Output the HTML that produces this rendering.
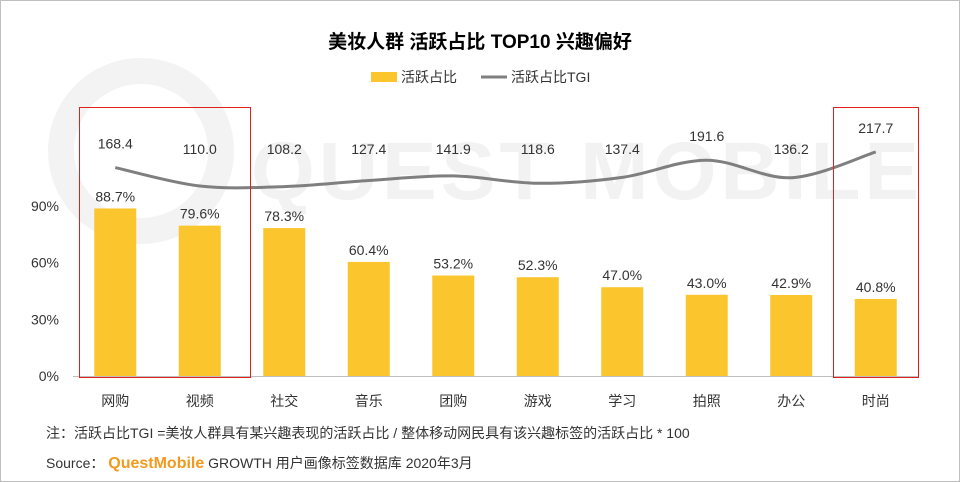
<!DOCTYPE html>
<html><head><meta charset="utf-8"><style>
body{margin:0;background:#fff;}
#wrap{position:relative;width:958px;height:480px;border:1px solid #bfbfbf;overflow:hidden;font-family:"Liberation Sans","Noto Sans CJK SC",sans-serif;}
svg{position:absolute;left:0;top:0}
</style></head><body>
<div id="wrap">
<svg id="chart" width="958" height="480"></svg>
</div>
<script>
const categories=["网购","视频","社交","音乐","团购","游戏","学习","拍照","办公","时尚"];
const shareValues=[88.7,79.6,78.3,60.4,53.2,52.3,47.0,43.0,42.9,40.8];
const tgiValues=[168.4,110.0,108.2,127.4,141.9,118.6,137.4,191.6,136.2,217.7];
const yTicks=[0,30,60,90];
const yTickLabels=["0%","30%","60%","90%"];
const NS="http://www.w3.org/2000/svg";
const svg=document.getElementById('chart');
function el(tag,attrs,parent){const e=document.createElementNS(NS,tag);for(const k in attrs)e.setAttribute(k,attrs[k]);(parent||svg).appendChild(e);return e;}
const x0=72,step=84.5,baseY=375;
const xPos=i=>x0+step*(i+0.5);
const yShare=v=>baseY-v*(170/90);
const yTgi=v=>185-(v-110)*0.316;
// watermark
let wm=el('text',{x:250,y:198,'font-size':82,'font-weight':'bold',fill:'#f2f2f2','letter-spacing':'4'});
wm.textContent="QUEST MOBILE";


let wc=el('circle',{cx:140,cy:150,r:80,fill:'none',stroke:'#f3f3f3','stroke-width':26});


// title
let t=el('text',{x:479,y:47,'text-anchor':'middle','font-size':19,'font-weight':'bold',fill:'#000'});
t.textContent="美妆人群 活跃占比 TOP10 兴趣偏好";


// legend
let lg=el('g',{});


let lr=el('rect',{x:370,y:71,width:26,height:10,fill:'#fbc52d'},lg);


let lt=el('text',{x:400,y:81,'font-size':14,fill:'#333'},lg);lt.textContent="活跃占比";


let ll=el('line',{x1:480,y1:76,x2:506,y2:76,stroke:'#7f7f7f','stroke-width':3},lg);


let lt2=el('text',{x:510,y:81,'font-size':14,fill:'#333'},lg);lt2.textContent="活跃占比TGI";


// y ticks
yTicks.forEach((v,i)=>{let tx=el('text',{x:58,y:yShare(v)+5,'text-anchor':'end','font-size':14,fill:'#333'});tx.textContent=yTickLabels[i];

});
// axis
let ax=el('line',{x1:x0,y1:baseY+0.5,x2:x0+step*10,y2:baseY+0.5,stroke:'#bfbfbf','stroke-width':1});


// bars
categories.forEach((c,i)=>{
 const v=shareValues[i],y=yShare(v);
 let b=el('rect',{x:xPos(i)-21,y:y,width:42,height:baseY-y,fill:'#fbc52d'});
 
 
 let vl=el('text',{x:xPos(i),y:y-7,'text-anchor':'middle','font-size':14,fill:'#333'});vl.textContent=v.toFixed(1)+"%";
 
 
 let cl=el('text',{x:xPos(i),y:baseY+30,'text-anchor':'middle','font-size':14,fill:'#333'});cl.textContent=c;
 
 
});
// line (smooth)
const pts=tgiValues.map((v,i)=>[xPos(i),yTgi(v)]);
let d="M"+pts[0][0]+","+pts[0][1];
for(let i=0;i<pts.length-1;i++){
 const p0=pts[i-1]||pts[i],p1=pts[i],p2=pts[i+1],p3=pts[i+2]||p2;
 const c1=[p1[0]+(p2[0]-p0[0])/6,p1[1]+(p2[1]-p0[1])/6];
 const c2=[p2[0]-(p3[0]-p1[0])/6,p2[1]-(p3[1]-p1[1])/6];
 d+=" C"+c1+" "+c2+" "+p2;
}
let ln=el('path',{d:d,fill:'none',stroke:'#7f7f7f','stroke-width':3});


pts.forEach((p,i)=>{
 let tl=el('text',{x:p[0],y:Math.min(153,p[1]-19),'text-anchor':'middle','font-size':14,fill:'#333'});tl.textContent=tgiValues[i].toFixed(1);
 
 
});
// highlight boxes
let h1=el('rect',{x:78.5,y:106.5,width:171,height:270,fill:'none',stroke:'#e0201c','stroke-width':1});


let h2=el('rect',{x:832.5,y:106.5,width:85,height:270,fill:'none',stroke:'#e0201c','stroke-width':1});


// notes
let n1=el('text',{x:45,y:437,'font-size':14,fill:'#333'});
n1.textContent="注：活跃占比TGI =美妆人群具有某兴趣表现的活跃占比 / 整体移动网民具有该兴趣标签的活跃占比 * 100";


let n2=el('text',{x:45,y:467,'font-size':14,fill:'#333'});
n2.innerHTML='Source： <tspan fill="#f29a1d" font-weight="bold" font-size="16">QuestMobile</tspan> GROWTH 用户画像标签数据库 2020年3月';


</script>
</body></html>
